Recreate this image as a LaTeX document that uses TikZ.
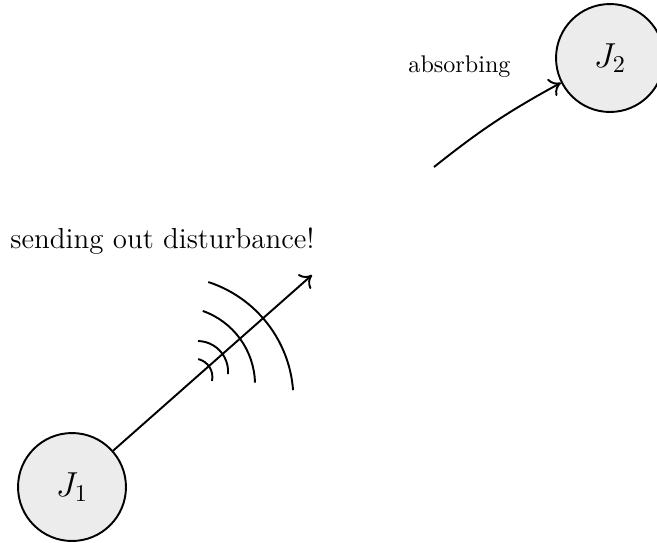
\documentclass[tikz,border=0pt]{standalone}
\usetikzlibrary{calc,arrows.meta}
\begin{document}
\begin{tikzpicture}[x=0.415pt, y=0.415pt,
  jnode/.style={circle, draw=black, fill=gray!15, thick, minimum size=44.8pt, inner sep=0pt, font=\Large},
  conn/.style={-{Computer Modern Rightarrow[length=4.5pt, width=8pt]}, thick},
  wave/.style={thick},
  lbl/.style={inner sep=0pt, anchor=base west}]
\useasboundingbox (0,0) rectangle (657,542);
% nodes
\node[jnode] (J1) at (72,55) {$J_1$};
\node[jnode] (J2) at (610,484) {$J_2$};
% labels
\node[lbl] (absorb) at (408,470) {absorbing};
\node[lbl, font=\large] (send) at (10,294) {sending out disturbance!};
% free ends
\coordinate (tip1) at (312,267);
\coordinate (s2) at (434,375);
% connectors
\draw[conn] (J1) -- (tip1);
\draw[conn] (s2) to[bend left=5] (J2);
% disturbance waves
\coordinate (c1) at (194,165);
\coordinate (c2) at (197.5,170.4);
\coordinate (c3) at (176.8,157.3);
\coordinate (c4) at (170.2,142.8);
\draw[wave] (c1) ++(77:18.4) arc[start angle=77, end angle=-12.5, radius=18.4];
\draw[wave] (c2) ++(89:30.6) arc[start angle=89, end angle=-4.5, radius=30.6];
\draw[wave] (c3) ++(70.6:78.2) arc[start angle=70.6, end angle=1.5, radius=78.2];
\draw[wave] (c4) ++(72:123.2) arc[start angle=72, end angle=4.2, radius=123.2];
\end{tikzpicture}
\end{document}
